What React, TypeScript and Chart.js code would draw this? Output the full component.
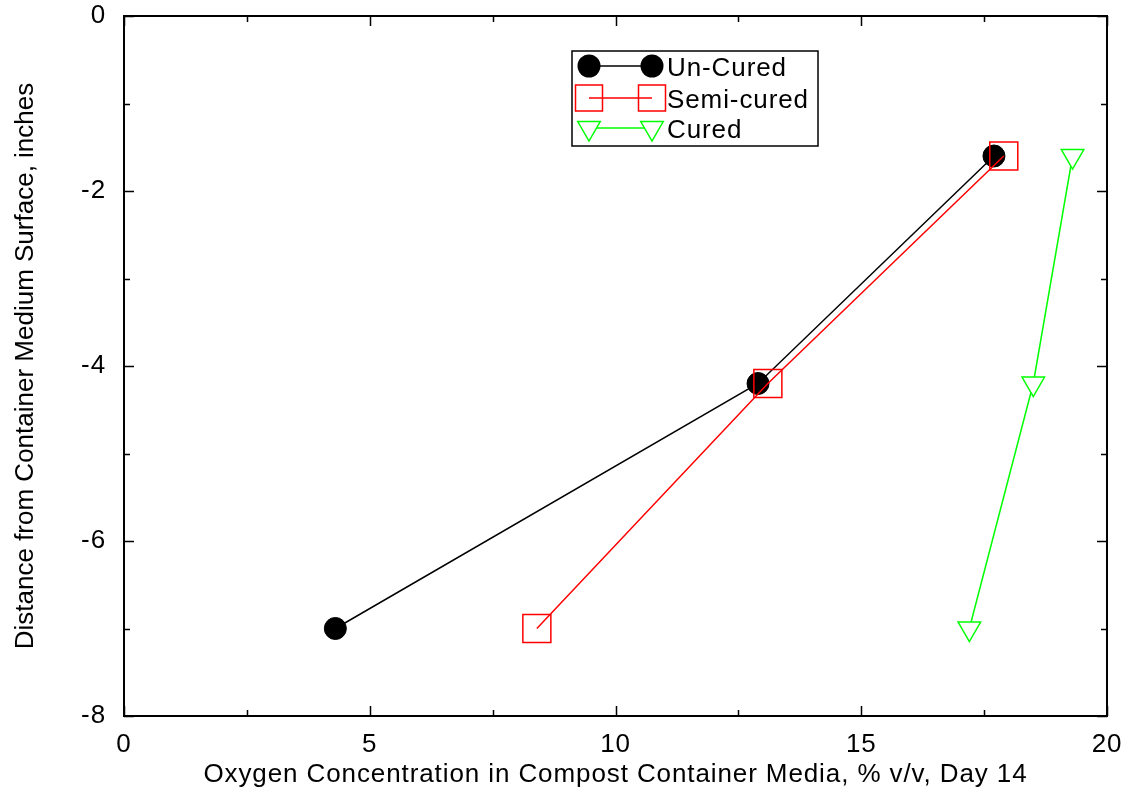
import React, { useEffect, useRef } from "react";
import { Chart, registerables } from "chart.js";

Chart.register(...registerables);

const seriesNames = ["Un-Cured", "Semi-cured", "Cured"];
const depths = [-7, -4.2, -1.6];
const oxygenUnCured = [4.3, 12.9, 17.7];
const oxygenSemiCured = [8.4, 13.1, 17.9];
const oxygenCured = [17.2, 18.5, 19.3];
const xMajorTicks = [0, 5, 10, 15, 20];
const xMinorTicks = [2.5, 7.5, 12.5, 17.5];
const yMajorTicks = [0, -2, -4, -6, -8];
const yMinorTicks = [-1, -3, -5, -7];

const FONT = "'Liberation Sans', Arial, sans-serif";
const FSIZE = 26;
const SPACING = "0.9px";

function drawMarker(ctx: CanvasRenderingContext2D, style: string, x: number, y: number, color: string) {
  ctx.save();
  ctx.strokeStyle = color;
  ctx.fillStyle = color;
  ctx.lineWidth = 1.5;
  ctx.beginPath();
  if (style === "circle") {
    ctx.arc(x, y, 11.5, 0, Math.PI * 2);
    ctx.fill();
  } else if (style === "rect") {
    ctx.rect(x - 13.5, y - 13, 27, 26);
    ctx.stroke();
  } else {
    const r = 13;
    ctx.moveTo(x - r * 0.866, y - r * 0.5);
    ctx.lineTo(x + r * 0.866, y - r * 0.5);
    ctx.lineTo(x, y + r);
    ctx.closePath();
    ctx.fillStyle = "#fff";
    ctx.fill();
    ctx.stroke();
  }
  ctx.restore();
}

const spacingPlugin = {
  id: "letterSpacing",
  afterLayout(chart: any) {
    const ys = chart.scales.y;
    if (ys && !ys.__patched) {
      const orig = ys.drawTitle.bind(ys);
      ys.drawTitle = function () {
        const c: any = this.ctx;
        const prev = c.letterSpacing;
        c.letterSpacing = "0px";
        orig();
        c.letterSpacing = prev;
      };
      ys.__patched = true;
    }
  },
  beforeDraw(chart: any) {
    (chart.ctx as any).letterSpacing = SPACING;
  },
};

const framePlugin = {
  id: "frameTicks",
  beforeDatasetsDraw(chart: any) {
    const { ctx, chartArea } = chart;
    const { left, right, top, bottom } = chartArea;
    const xs = chart.scales.x;
    const ys = chart.scales.y;
    ctx.save();
    ctx.strokeStyle = "#000";
    ctx.lineWidth = 2;
    ctx.strokeRect(left, top, right - left, bottom - top);
    ctx.lineWidth = 1.5;
    ctx.beginPath();
    const xt = (vals: number[], len: number) => {
      vals.forEach((v) => {
        const px = Math.round(xs.getPixelForValue(v)) + 0.5;
        ctx.moveTo(px, bottom);
        ctx.lineTo(px, bottom - len);
        ctx.moveTo(px, top);
        ctx.lineTo(px, top + len);
      });
    };
    const yt = (vals: number[], len: number) => {
      vals.forEach((v) => {
        const py = Math.round(ys.getPixelForValue(v)) + 0.5;
        ctx.moveTo(left, py);
        ctx.lineTo(left + len, py);
        ctx.moveTo(right, py);
        ctx.lineTo(right - len, py);
      });
    };
    xt(xMajorTicks, 10);
    xt(xMinorTicks, 6);
    yt(yMajorTicks, 10);
    yt(yMinorTicks, 6);
    ctx.stroke();
    ctx.restore();
  },
};

const legendPlugin = {
  id: "customLegend",
  afterDraw(chart: any) {
    const { ctx, chartArea } = chart;
    const bx = chartArea.left + 448;
    const by = chartArea.top + 35;
    const bw = 246;
    const bh = 95;
    ctx.save();
    ctx.fillStyle = "#fff";
    ctx.fillRect(bx, by, bw, bh);
    ctx.strokeStyle = "#000";
    ctx.lineWidth = 1.5;
    ctx.strokeRect(bx, by, bw, bh);
    const rows = [15, 47, 77];
    chart.data.datasets.forEach((ds: any, i: number) => {
      const y = by + rows[i];
      const x1 = bx + 17;
      const x2 = bx + 80;
      ctx.save();
      ctx.strokeStyle = ds.borderColor;
      ctx.lineWidth = 1.5;
      ctx.beginPath();
      ctx.moveTo(x1, y);
      ctx.lineTo(x2, y);
      ctx.stroke();
      ctx.restore();
      drawMarker(ctx, ds.pointStyle, x1, y, ds.borderColor);
      drawMarker(ctx, ds.pointStyle, x2, y, ds.borderColor);
      ctx.fillStyle = "#000";
      ctx.font = `${FSIZE}px ${FONT}`;
      ctx.textBaseline = "middle";
      ctx.textAlign = "left";
      ctx.fillText(ds.label, bx + 95, y + 3);
    });
    ctx.restore();
  },
};

export default function App() {
  const canvasRef = useRef<HTMLCanvasElement | null>(null);

  useEffect(() => {
    if (!canvasRef.current) return;
    const mk = (xs: number[]) => xs.map((x, i) => ({ x, y: depths[i] }));
    const chart = new Chart(canvasRef.current, {
      type: "line",
      data: {
        datasets: [
          {
            label: seriesNames[0],
            data: mk(oxygenUnCured),
            borderColor: "#000000",
            backgroundColor: "#000000",
            pointStyle: "circle",
            pointRadius: 11,
            pointBorderWidth: 1,
            borderWidth: 1.5,
            order: 3,
          },
          {
            label: seriesNames[1],
            data: mk(oxygenSemiCured),
            borderColor: "#ff0000",
            backgroundColor: "rgba(0,0,0,0)",
            pointStyle: "rect",
            pointRadius: 19.8,
            pointBorderWidth: 1.5,
            borderWidth: 1.5,
            order: 2,
          },
          {
            label: seriesNames[2],
            data: mk(oxygenCured),
            borderColor: "#00ff00",
            backgroundColor: "#ffffff",
            pointStyle: "triangle",
            pointRotation: 180,
            pointRadius: 13,
            pointBorderWidth: 1.5,
            borderWidth: 1.5,
            order: 1,
          },
        ],
      },
      options: {
        animation: false,
        responsive: true,
        maintainAspectRatio: false,
        layout: { autoPadding: false, padding: { top: 16, right: 23, left: 0, bottom: 0 } },
        plugins: { legend: { display: false }, tooltip: { enabled: false } },
        elements: { line: { tension: 0 } },
        scales: {
          x: {
            type: "linear",
            min: 0,
            max: 20,
            afterFit: (s: any) => {
              s.height = 75;
              s.paddingLeft = 0;
              s.paddingRight = 0;
            },
            afterBuildTicks: (s: any) => {
              s.ticks = xMajorTicks.map((v) => ({ value: v }));
            },
            grid: { display: false, drawTicks: false },
            border: { display: false },
            ticks: {
              color: "#000",
              padding: 13,
              maxRotation: 0,
              font: { family: FONT, size: FSIZE },
            },
            title: {
              display: true,
              text: "Oxygen Concentration in Compost Container Media, % v/v, Day 14",
              color: "#000",
              font: { family: FONT, size: FSIZE },
              padding: { top: 0, bottom: 1 },
            },
          },
          y: {
            type: "linear",
            min: -8,
            max: 0,
            afterFit: (s: any) => {
              s.width = 124;
              s.paddingTop = 0;
              s.paddingBottom = 0;
            },
            afterBuildTicks: (s: any) => {
              s.ticks = yMajorTicks.map((v) => ({ value: v }));
            },
            grid: { display: false, drawTicks: false },
            border: { display: false },
            ticks: {
              color: "#000",
              padding: 18,
              font: { family: FONT, size: FSIZE },
            },
            title: {
              display: true,
              text: "Distance from Container Medium Surface, inches",
              color: "#000",
              font: { family: FONT, size: FSIZE },
              padding: { top: 10, bottom: 0 },
            },
          },
        },
      },
      plugins: [spacingPlugin, framePlugin, legendPlugin],
    });
    return () => chart.destroy();
  }, []);

  return (
    <div style={{ position: "fixed", left: 0, top: 0, width: 1130, height: 791, background: "#fff" }}>
      <canvas ref={canvasRef} />
    </div>
  );
}
